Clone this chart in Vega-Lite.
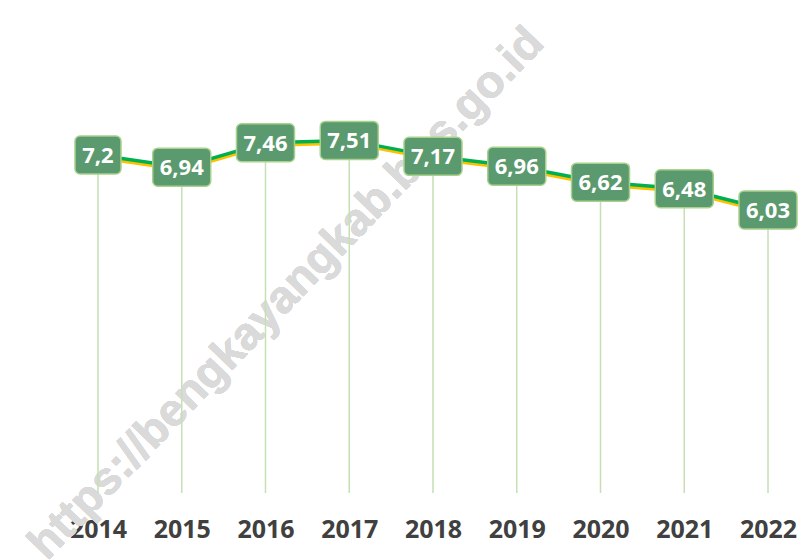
{
  "$schema": "https://vega.github.io/schema/vega-lite/v6.json",
  "width": 800,
  "height": 493,
  "padding": {"top": 0, "left": 0, "right": 0, "bottom": 67},
  "autosize": {"type": "none"},
  "background": "white",
  "config": {"view": {"stroke": null}},
  "data": {"values": [
    {"year": 2014, "value": 7.2, "label": "7,2"},
    {"year": 2015, "value": 6.94, "label": "6,94"},
    {"year": 2016, "value": 7.46, "label": "7,46"},
    {"year": 2017, "value": 7.51, "label": "7,51"},
    {"year": 2018, "value": 7.17, "label": "7,17"},
    {"year": 2019, "value": 6.96, "label": "6,96"},
    {"year": 2020, "value": 6.62, "label": "6,62"},
    {"year": 2021, "value": 6.48, "label": "6,48"},
    {"year": 2022, "value": 6.03, "label": "6,03"}
  ]},
  "encoding": {
    "x": {"field": "year", "type": "quantitative",
      "scale": {"domain": [2012.83, 2022.382], "nice": false, "zero": false},
      "axis": {"values": [2014, 2015, 2016, 2017, 2018, 2019, 2020, 2021, 2022], "format": "d", "title": null,
        "domain": false, "ticks": false, "grid": false, "labelPadding": 24,
        "labelFont": "Open Sans", "labelFontWeight": "bold", "labelFontSize": 25, "labelColor": "#404040"}},
    "y": {"field": "value", "type": "quantitative",
      "scale": {"domain": [0, 10.5], "nice": false}, "axis": null}
  },
  "layer": [
    {"mark": {"type": "text", "text": "https://bengkayangkab.bps.go.id", "angle": 314, "font": "Liberation Sans", "fontWeight": "bold", "fontSize": 46, "align": "center", "baseline": "middle", "fill": "#dadada"},
     "encoding": {"x": {"datum": 2016.25}, "y": {"datum": 4.25}}},
    {"mark": {"type": "rule", "color": "#c5e0b4", "strokeWidth": 1.5},
     "encoding": {"y2": {"datum": 0}}},
    {"mark": {"type": "line", "color": "#ffc000", "strokeWidth": 3.5, "yOffset": 2.5}},
    {"mark": {"type": "line", "color": "#00b050", "strokeWidth": 3.5}},
    {"transform": [{"filter": "datum.year != 2014"}],
     "mark": {"type": "rect", "fill": "#5a9a6e", "stroke": "#a9d18e", "strokeWidth": 1.5, "cornerRadius": 5,
       "xOffset": -29, "x2Offset": 29, "yOffset": -19, "y2Offset": 19},
     "encoding": {"x2": {"field": "year"}, "y2": {"field": "value"}}},
    {"transform": [{"filter": "datum.year == 2014"}],
     "mark": {"type": "rect", "fill": "#5a9a6e", "stroke": "#a9d18e", "strokeWidth": 1.5, "cornerRadius": 5,
       "xOffset": -23, "x2Offset": 23, "yOffset": -19, "y2Offset": 19},
     "encoding": {"x2": {"field": "year"}, "y2": {"field": "value"}}},
    {"mark": {"type": "text", "color": "white", "font": "Open Sans", "fontWeight": "bold", "fontSize": 22, "baseline": "middle", "dy": 1},
     "encoding": {"text": {"field": "label"}}}
  ]
}
